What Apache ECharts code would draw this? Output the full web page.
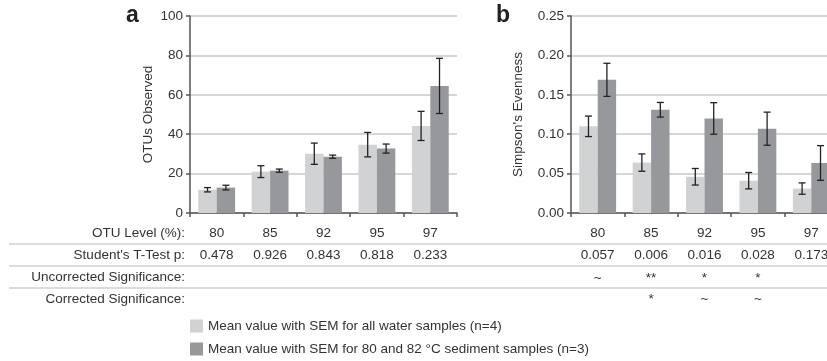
<!DOCTYPE html>
<html><head><meta charset="utf-8">
<script src="https://cdn.jsdelivr.net/npm/echarts@6/dist/echarts.min.js"></script>
<style>html,body{margin:0;padding:0;background:#fff}#c{width:827px;height:361px}</style>
</head><body><div id="c"></div>
<script>
const categories = ['80', '85', '92', '95', '97'];
const otuWater = [11.8, 21.0, 30.1, 34.7, 44.2];
const otuWaterErr = [1.1, 3.0, 5.4, 6.2, 7.4];
const otuSed = [12.9, 21.5, 28.6, 32.7, 64.5];
const otuSedErr = [1.2, 0.8, 0.8, 2.3, 14.0];
const evenWater = [0.110, 0.064, 0.046, 0.041, 0.031];
const evenWaterErr = [0.013, 0.011, 0.0105, 0.0104, 0.0072];
const evenSed = [0.169, 0.131, 0.120, 0.107, 0.0635];
const evenSedErr = [0.021, 0.0093, 0.020, 0.021, 0.022];
const pA = ['0.478', '0.926', '0.843', '0.818', '0.233'];
const pB = ['0.057', '0.006', '0.016', '0.028', '0.173'];
const uncorrA = ['', '', '', '', ''];
const uncorrB = ['~', '**', '*', '*', ''];
const corrA = ['', '', '', '', ''];
const corrB = ['', '*', '~', '~', ''];
const rowLabels = ['OTU Level (%):', "Student's T-Test p:", 'Uncorrected Significance:', 'Corrected Significance:'];
const seriesNames = ['Mean value with SEM for all water samples (n=4)', 'Mean value with SEM for 80 and 82 \u00B0C sediment samples (n=3)'];

const FONT = "'Liberation Sans', Arial, sans-serif";
const FS = 13.5;
const TXT = '#333';
const LIGHT = '#d1d2d4', DARK = '#96989b';
const GAP = 0.31;

const chart = echarts.init(document.getElementById('c'));

function rowAxes(gridIndex, rows) {
  const margins = [13, 35.5, 58, 79.5];
  return rows.map((arr, k) => ({
    type: 'category', gridIndex, data: categories, position: 'bottom',
    offset: 0,
    axisLine: { show: k === 0, lineStyle: { color: '#555', width: 1.5 } },
    axisTick: { show: k === 0, alignWithLabel: false, length: 4, lineStyle: { color: '#555', width: 1.5 } },
    axisLabel: { show: true, interval: 0, margin: margins[k], color: TXT, fontFamily: FONT, fontSize: FS,
      formatter: (v, i) => arr[i] },
    splitLine: { show: false }
  }));
}

const xAxes = [
  ...rowAxes(0, [categories, pA, uncorrA, corrA]),
  ...rowAxes(1, [categories, pB, uncorrB, corrB])
];

function yAx(gridIndex, max, interval, name, nameGap, fmt) {
  return {
    type: 'value', gridIndex, min: 0, max, interval, name, nameLocation: 'middle', nameGap,
    nameTextStyle: { color: TXT, fontFamily: FONT, fontSize: FS },
    axisLine: { show: true, lineStyle: { color: '#555', width: 1.5 } },
    axisTick: { show: true, length: 4, lineStyle: { color: '#555', width: 1.5 } },
    axisLabel: { color: TXT, fontFamily: FONT, fontSize: FS, margin: 7, formatter: fmt },
    splitLine: { show: true, lineStyle: { color: '#c8c8c8', width: 1.5 } }
  };
}

function bar(name, data, xi, yi, color) {
  return { type: 'bar', name, data, xAxisIndex: xi, yAxisIndex: yi, barGap: '0%', barCategoryGap: (GAP * 100) + '%',
    itemStyle: { color }, emphasis: { disabled: true }, silent: true };
}

function err(vals, errs, xi, yi, side) {
  return {
    type: 'custom', xAxisIndex: xi, yAxisIndex: yi, silent: true, z: 5,
    data: vals.map((v, i) => [i, v, errs[i]]),
    encode: { x: 0, y: 1 },
    renderItem: function (params, api) {
      const i = api.value(0), v = api.value(1), e = api.value(2);
      const c = api.coord([i, v]);
      const band = api.size([1, 0])[0];
      const x = c[0] + side * band * (1 - GAP) / 4;
      const t = api.coord([i, v + e])[1];
      const b = api.coord([i, v - e])[1];
      const w = 3.5;
      const st = { stroke: '#222', lineWidth: 1.3 };
      return { type: 'group', children: [
        { type: 'line', shape: { x1: x, y1: t, x2: x, y2: b }, style: st },
        { type: 'line', shape: { x1: x - w, y1: t, x2: x + w, y2: t }, style: st },
        { type: 'line', shape: { x1: x - w, y1: b, x2: x + w, y2: b }, style: st }
      ] };
    }
  };
}

const graphics = [];
graphics.push({ type: 'text', left: 126, top: 4, style: { text: 'a', font: "bold 23px " + FONT, fill: '#222' } });
graphics.push({ type: 'text', left: 496, top: 4, style: { text: 'b', font: "bold 23px " + FONT, fill: '#222' } });
const rowY = [233, 255.7, 277.5, 299];
rowLabels.forEach((t, k) => {
  graphics.push({ type: 'text', x: 185, y: rowY[k], style: { text: t, font: FS + "px " + FONT, fill: TXT, align: 'right', verticalAlign: 'middle' } });
});
[244, 266, 288].forEach(y => {
  graphics.push({ type: 'line', shape: { x1: 9, y1: y, x2: 827, y2: y }, style: { stroke: '#d0d0d0', lineWidth: 1.5 } });
});

function leg(name, top) {
  return { data: [name], left: 190, top, itemWidth: 13, itemHeight: 13, itemGap: 5, padding: 0,
    icon: 'rect', selectedMode: false, textStyle: { color: TXT, fontFamily: FONT, fontSize: FS } };
}

chart.setOption({
  animation: false,
  textStyle: { fontFamily: FONT },
  grid: [
    { left: 190, top: 16, width: 267, height: 197, containLabel: false, outerBoundsMode: 'none' },
    { left: 571, top: 16, width: 267, height: 197, containLabel: false, outerBoundsMode: 'none' }
  ],
  xAxis: xAxes,
  yAxis: [
    yAx(0, 100, 20, 'OTUs Observed', 35, v => v),
    yAx(1, 0.25, 0.05, "Simpson's Evenness", 46, v => v.toFixed(2))
  ],
  legend: [leg(seriesNames[0], 319), leg(seriesNames[1], 342)],
  series: [
    bar(seriesNames[0], otuWater, 0, 0, LIGHT),
    bar(seriesNames[1], otuSed, 0, 0, DARK),
    bar(seriesNames[0], evenWater, 4, 1, LIGHT),
    bar(seriesNames[1], evenSed, 4, 1, DARK),
    err(otuWater, otuWaterErr, 0, 0, -1),
    err(otuSed, otuSedErr, 0, 0, 1),
    err(evenWater, evenWaterErr, 4, 1, -1),
    err(evenSed, evenSedErr, 4, 1, 1)
  ],
  graphic: graphics
});
</script></body></html>
